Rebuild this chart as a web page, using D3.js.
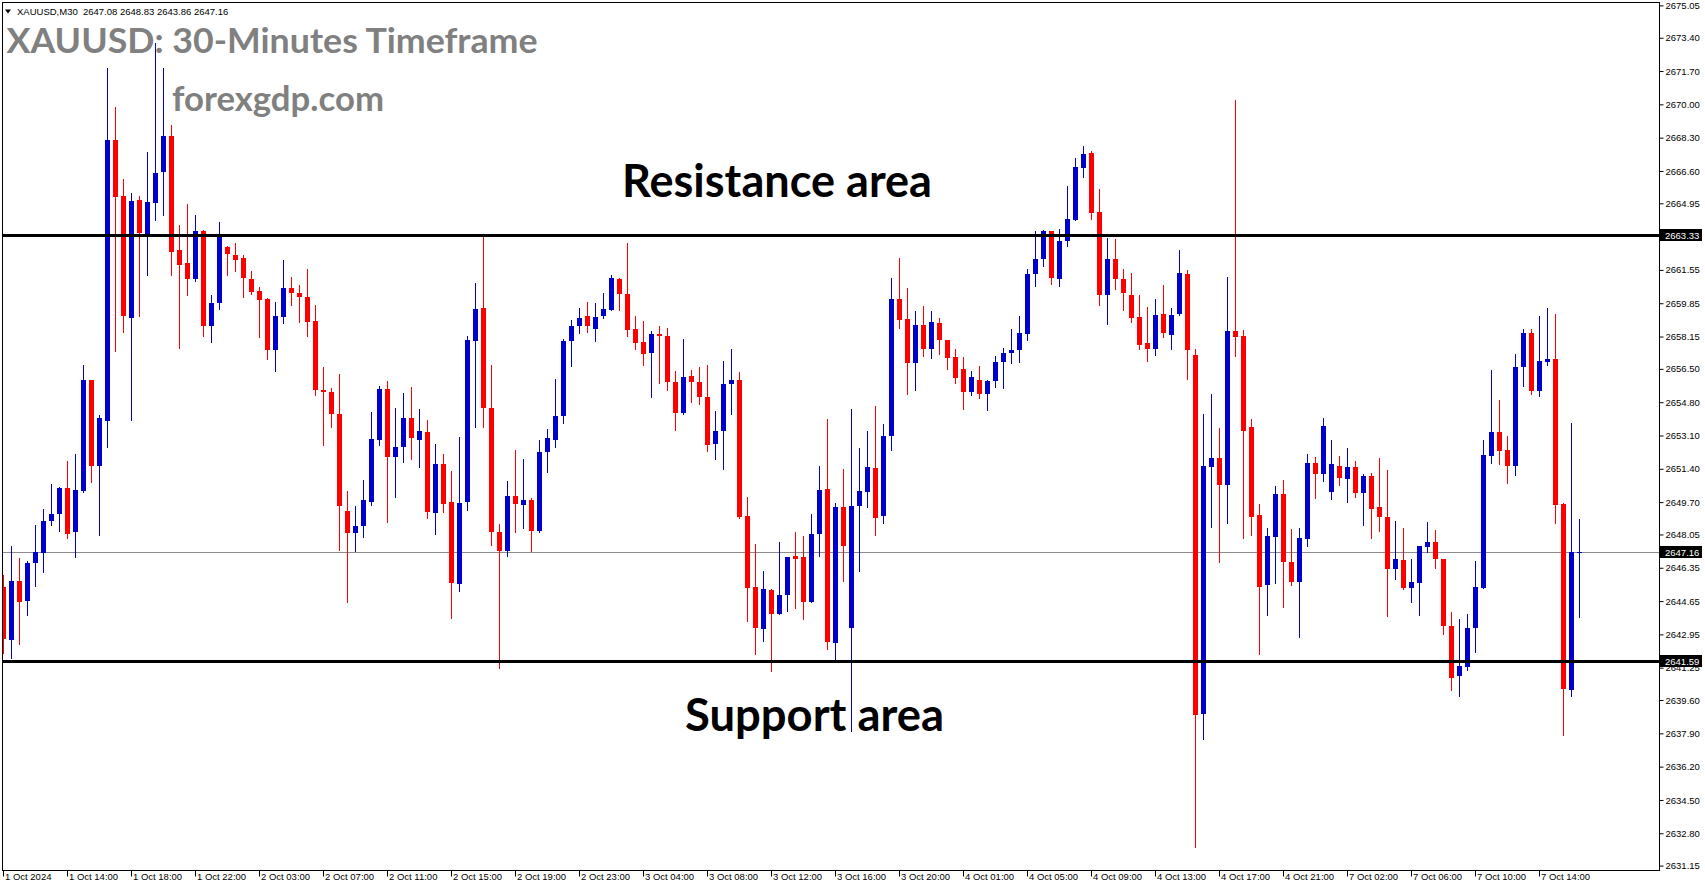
<!DOCTYPE html>
<html><head><meta charset="utf-8">
<script src="https://cdn.jsdelivr.net/npm/d3@7"></script>
<style>html,body{margin:0;padding:0;background:#fff;overflow:hidden}</style>
</head><body><svg id="c" width="1705" height="888"></svg>
<script>
// ---- DATA (XAUUSD M30) ----
const opens = [2645.37,2642.66,2645.68,2644.65,2646.59,2647.08,2648.74,2649.09,2650.41,2648.17,2650.26,2655.93,2651.56,2653.86,2668.16,2665.34,2659.12,2665.14,2663.33,2664.99,2666.54,2668.36,2662.57,2661.91,2661.11,2663.56,2658.71,2659.88,2662.73,2662.32,
2662.17,2661.10,2660.45,2660.08,2657.44,2659.13,2660.64,2660.39,2660.18,2658.96,2655.44,2655.33,2654.21,2649.26,2648.10,2648.46,2649.73,2652.85,2655.49,2651.98,2652.49,2654.01,2652.85,2653.29,2649.12,2651.66,2649.72,2645.50,2649.73,
2657.90,2659.62,2654.52,2648.19,2647.20,2650.02,2649.53,2649.82,2648.24,2652.24,2652.85,2654.11,2657.90,2658.67,2659.21,2658.51,2659.18,2659.48,2661.10,2660.34,2658.55,2657.89,2657.29,2658.29,2658.19,2655.84,2654.23,2656.15,2655.84,2655.08,
2652.69,2653.31,2655.71,2655.94,2649.00,2645.38,2643.25,2645.22,2643.97,2644.94,2646.96,2646.91,2644.58,2648.05,2650.38,2642.49,2649.46,2643.30,2649.48,2650.24,2651.45,2648.97,2653.05,2660.08,2659.06,2656.78,2658.75,2657.54,2658.85,
2657.99,2657.12,2656.51,2655.30,2655.95,2655.20,2655.86,2656.83,2657.29,2657.48,2658.26,2661.32,2662.09,2663.55,2661.07,2663.01,2664.08,2666.73,2667.53,2664.52,2660.25,2662.12,2661.10,2660.28,2659.16,2657.83,2657.49,2659.31,2658.21,2659.28,
2661.35,2657.21,2638.89,2651.51,2651.96,2650.56,2658.44,2658.19,2653.55,2649.05,2645.49,2647.90,2650.11,2646.65,2645.64,2647.83,2651.69,2651.16,2650.23,2651.54,2650.86,2651.49,2650.18,2651.04,2649.46,2648.93,2646.27,2646.75,2645.34,
2645.56,2647.40,2647.64,2646.82,2643.40,2640.81,2641.27,2643.26,2645.31,2652.04,2653.30,2652.38,2651.53,2656.59,2658.31,2655.36,2656.84,2656.98,2649.58,2640.10,2647.08];
const highs = [2645.99,2647.47,2646.85,2646.70,2648.52,2649.34,2650.61,2650.45,2651.78,2652.15,2656.71,2655.95,2654.15,2671.84,2669.88,2666.17,2665.49,2665.34,2667.58,2673.11,2671.84,2668.96,2663.86,2664.93,2664.36,2663.60,2660.27,2664.01,2662.77,2662.94,
2662.33,2661.51,2660.69,2660.10,2659.93,2662.07,2661.20,2660.80,2661.61,2659.77,2656.58,2655.54,2656.25,2650.28,2649.48,2650.81,2654.31,2655.61,2655.89,2654.52,2655.28,2655.55,2654.47,2653.90,2652.68,2652.17,2651.27,2653.04,2658.19,
2660.90,2663.26,2656.68,2648.59,2650.79,2652.37,2651.91,2649.92,2652.88,2653.44,2656.00,2658.04,2659.01,2659.62,2659.93,2659.88,2660.39,2661.31,2661.12,2662.94,2659.21,2658.96,2658.45,2658.70,2658.60,2656.40,2658.04,2656.46,2656.61,2656.71,
2654.36,2656.91,2657.53,2656.35,2649.94,2647.54,2646.19,2645.28,2647.69,2646.91,2648.19,2647.98,2649.10,2651.55,2653.95,2649.67,2651.40,2654.46,2652.47,2653.34,2654.62,2653.70,2661.15,2662.17,2660.64,2659.47,2659.72,2659.47,2659.11,
2657.99,2657.53,2657.12,2656.40,2656.66,2655.95,2657.17,2657.58,2658.55,2659.21,2661.61,2663.55,2663.60,2663.55,2663.65,2665.85,2667.28,2667.89,2667.64,2665.70,2663.19,2663.14,2661.61,2661.41,2660.28,2659.67,2660.08,2660.79,2659.62,2662.58,
2661.55,2657.53,2654.20,2655.23,2653.50,2661.20,2670.20,2658.49,2653.95,2649.61,2648.38,2650.53,2650.84,2648.33,2648.38,2652.17,2652.02,2654.00,2652.87,2652.07,2652.47,2651.81,2651.14,2651.19,2651.96,2651.34,2648.73,2648.38,2646.80,
2647.48,2648.66,2648.30,2646.82,2644.11,2643.71,2644.01,2646.67,2652.89,2656.42,2654.89,2653.05,2657.28,2658.51,2658.51,2659.22,2659.63,2659.28,2649.63,2653.76,2648.83];
const lows = [2641.98,2641.74,2642.46,2643.93,2645.41,2646.13,2648.54,2648.25,2647.88,2646.89,2650.22,2650.71,2648.02,2652.52,2657.43,2658.40,2653.90,2659.18,2661.28,2664.09,2664.34,2661.28,2657.58,2660.29,2660.97,2658.19,2657.89,2659.57,2661.28,2661.48,
2660.15,2660.34,2658.11,2656.98,2656.37,2658.82,2659.74,2658.87,2658.16,2655.15,2652.63,2653.51,2647.27,2644.58,2647.22,2647.90,2649.53,2652.59,2648.71,2649.94,2651.73,2651.91,2651.47,2648.87,2648.05,2649.22,2643.81,2645.14,2649.28,
2653.53,2653.51,2647.49,2641.21,2646.93,2648.15,2648.36,2647.20,2648.19,2651.22,2652.49,2653.72,2656.63,2658.34,2658.36,2657.90,2659.08,2659.48,2659.48,2658.16,2657.49,2656.68,2655.04,2655.76,2655.40,2653.36,2654.18,2654.79,2654.69,2652.29,
2651.91,2651.37,2654.18,2648.90,2643.61,2641.97,2642.59,2641.06,2643.97,2644.12,2644.32,2643.76,2644.58,2646.93,2642.18,2641.65,2645.65,2638.01,2646.21,2649.43,2648.00,2648.61,2652.34,2658.57,2655.20,2655.40,2657.14,2657.03,2657.24,
2656.47,2655.76,2654.43,2655.18,2654.99,2654.38,2655.55,2655.50,2656.78,2656.83,2657.95,2660.71,2661.73,2660.81,2660.71,2662.75,2664.08,2666.27,2664.13,2659.74,2658.77,2660.56,2659.48,2658.87,2657.49,2656.88,2657.19,2658.11,2657.49,2659.27,
2656.00,2632.12,2637.61,2648.45,2646.62,2648.65,2657.18,2647.85,2648.00,2641.95,2643.96,2645.59,2644.36,2645.49,2642.83,2647.47,2649.93,2650.76,2649.88,2650.56,2649.73,2649.98,2648.55,2647.85,2648.25,2643.91,2645.77,2645.27,2644.61,
2643.93,2647.14,2646.33,2642.96,2640.10,2639.79,2641.12,2642.04,2645.31,2651.69,2651.64,2650.67,2651.07,2655.62,2655.21,2655.11,2656.69,2648.62,2637.80,2639.79,2643.86];
const closes = [2642.70,2645.68,2644.59,2646.61,2647.14,2648.72,2649.11,2650.41,2648.06,2650.30,2655.93,2651.56,2653.98,2668.16,2665.26,2659.22,2665.08,2663.45,2665.04,2666.51,2668.36,2662.49,2661.79,2661.11,2663.56,2658.71,2659.86,2663.33,2662.34,2662.08,
2661.12,2660.40,2660.00,2657.44,2659.21,2660.64,2660.35,2660.15,2658.87,2655.40,2655.30,2654.18,2649.48,2648.10,2648.49,2649.82,2652.93,2655.49,2651.98,2652.53,2654.01,2652.95,2653.34,2649.22,2651.66,2649.58,2645.55,2649.67,2657.99,
2659.57,2654.48,2648.15,2647.20,2650.02,2649.58,2649.82,2648.25,2652.27,2652.98,2654.11,2657.94,2658.70,2659.11,2658.67,2659.16,2659.57,2661.15,2660.30,2658.46,2657.80,2657.24,2658.29,2658.16,2655.81,2654.23,2656.10,2655.81,2655.04,2652.64,
2653.34,2655.74,2655.94,2648.95,2645.34,2643.30,2645.28,2643.97,2644.97,2646.91,2646.82,2644.58,2648.08,2650.33,2642.54,2649.46,2647.44,2649.51,2650.28,2651.50,2648.87,2653.09,2660.08,2658.97,2656.78,2658.75,2657.54,2658.91,2657.95,
2657.07,2656.01,2655.30,2656.10,2655.20,2655.89,2656.86,2657.32,2657.48,2658.34,2661.36,2662.12,2663.55,2661.12,2663.04,2664.16,2666.82,2667.48,2664.44,2660.25,2662.12,2661.07,2660.35,2659.08,2657.70,2657.49,2659.26,2658.31,2659.26,2661.41,
2657.46,2638.84,2651.54,2651.96,2650.56,2658.44,2658.11,2653.32,2648.95,2645.39,2647.97,2650.11,2646.62,2645.64,2647.88,2651.69,2651.11,2653.60,2651.64,2650.91,2651.49,2650.18,2651.04,2649.33,2648.95,2646.27,2646.80,2645.32,2645.62,
2647.48,2647.64,2646.79,2643.37,2640.71,2641.36,2643.30,2645.39,2652.08,2653.30,2652.30,2651.53,2656.62,2658.31,2655.36,2656.88,2656.98,2649.54,2640.15,2647.13,2647.16];

const timeLabels = ["1 Oct 2024","1 Oct 14:00","1 Oct 18:00","1 Oct 22:00","2 Oct 03:00","2 Oct 07:00","2 Oct 11:00","2 Oct 15:00","2 Oct 19:00","2 Oct 23:00","3 Oct 04:00","3 Oct 08:00","3 Oct 12:00","3 Oct 16:00","3 Oct 20:00","4 Oct 01:00","4 Oct 05:00","4 Oct 09:00","4 Oct 13:00","4 Oct 17:00","4 Oct 21:00","7 Oct 02:00","7 Oct 06:00","7 Oct 10:00","7 Oct 14:00"];
const labelEvery = 8;
const priceTicks = [2675.05,2673.40,2671.70,2670.00,2668.30,2666.60,2664.95,2663.25,2661.55,2659.85,2658.15,2656.50,2654.80,2653.10,2651.40,2649.70,2648.05,2646.35,2644.65,2642.95,2641.25,2639.60,2637.90,2636.20,2634.50,2632.80,2631.15];
const resistanceLevel = 2663.33, supportLevel = 2641.59, lastPrice = 2647.16;
const headerText = "XAUUSD,M30  2647.08 2648.83 2643.86 2647.16";

// ---- LAYOUT ----
const svg = d3.select("#c");
const P = {left:2, top:2, right:1659, bottom:870};
const n = opens.length;
const x = d3.scaleLinear().domain([0, n-1]).range([3.5, 3.5 + 8*(n-1)]);
const y = d3.scaleLinear().domain([2631.15, 2675.05]).range([865.6, 5.4]);
const BULL = "#0000cc", BEAR = "#ff0000";
const smallFont = "'Liberation Sans', Arial, sans-serif";

svg.append("rect").attr("width",1705).attr("height",888).attr("fill","#fff");
svg.append("clipPath").attr("id","clip").append("rect")
  .attr("x",P.left+1).attr("y",P.top+1).attr("width",P.right-P.left-1).attr("height",P.bottom-P.top-1);

const g = svg.append("g").attr("clip-path","url(#clip)");

// last price line
g.append("line").attr("x1",P.left).attr("x2",P.right)
  .attr("y1",Math.round(y(lastPrice))+0.5).attr("y2",Math.round(y(lastPrice))+0.5)
  .attr("stroke","#8c8c8c").attr("stroke-width",1);

// candles
const data = d3.range(n).map(i => ({i, o:opens[i], h:highs[i], l:lows[i], c:closes[i]}));
const cg = g.append("g");
cg.selectAll("line.wick").data(data).join("line").attr("class","wick")
  .attr("x1",d=>x(d.i)).attr("x2",d=>x(d.i))
  .attr("y1",d=>Math.round(y(d.h))).attr("y2",d=>Math.round(y(d.l))+1)
  .attr("stroke",d=>d.c>=d.o?BULL:BEAR).attr("stroke-width",1);
cg.selectAll("rect.body").data(data).join("rect").attr("class","body")
  .attr("x",d=>x(d.i)-2.5).attr("width",5)
  .attr("y",d=>Math.round(y(Math.max(d.o,d.c))))
  .attr("height",d=>Math.max(1, Math.round(y(Math.min(d.o,d.c))) - Math.round(y(Math.max(d.o,d.c)))))
  .attr("fill",d=>d.c>=d.o?BULL:BEAR);

// horizontal levels
[resistanceLevel, supportLevel].forEach(v=>{
  g.append("line").attr("x1",P.left).attr("x2",P.right)
    .attr("y1",Math.round(y(v))+0.5).attr("y2",Math.round(y(v))+0.5)
    .attr("stroke","#000").attr("stroke-width",3);
});

// frame
svg.append("rect").attr("x",P.left+0.5).attr("y",P.top+0.5)
  .attr("width",P.right-P.left).attr("height",P.bottom-P.top)
  .attr("fill","none").attr("stroke","#000").attr("stroke-width",1);

// right price axis
const yAxis = d3.axisRight(y).tickValues(priceTicks).tickSize(4).tickSizeOuter(0).tickFormat(d=>d.toFixed(2));
const ya = svg.append("g").attr("transform",`translate(${P.right+0.5},0)`).call(yAxis);
ya.select(".domain").remove();
ya.selectAll("text").attr("x",6).attr("font-family",smallFont).attr("font-size","9.5px").attr("fill","#000");
ya.selectAll("line").attr("stroke","#000");

// bottom time axis
const tickIdx = timeLabels.map((_,k)=>k*labelEvery);
const xAxis = d3.axisBottom(x).tickValues(tickIdx).tickSize(6).tickSizeOuter(0).tickFormat((d,k)=>timeLabels[k]);
const xa = svg.append("g").attr("transform",`translate(-0.5,${P.bottom+0.5})`).call(xAxis);
xa.select(".domain").remove();
xa.selectAll("text").attr("text-anchor","start").attr("x",1.5).attr("y",3).attr("dy","0.71em")
  .attr("font-family",smallFont).attr("font-size","9.5px").attr("fill","#000");
xa.selectAll("line").attr("stroke","#000");

// price markers on axis
[resistanceLevel, supportLevel, lastPrice].forEach(v=>{
  const yy = Math.round(y(v));
  svg.append("rect").attr("x",P.right+1).attr("y",yy-6).attr("width",42).attr("height",12).attr("fill","#000");
  svg.append("text").attr("x",P.right+6).attr("y",yy+3.5).text(v.toFixed(2))
    .attr("font-family",smallFont).attr("font-size","9.5px").attr("fill","#fff");
});

// header
svg.append("path").attr("d","M5,9.5 L11,9.5 L8,13.5 Z").attr("fill","#000");
svg.append("text").attr("x",17).attr("y",15).text(headerText)
  .attr("font-family",smallFont).attr("font-size","9.5px").attr("fill","#000").attr("xml:space","preserve")
  .style("white-space","pre");

// titles
const bigFont = "Lato, 'Open Sans', sans-serif";
svg.append("text").attr("x",6.5).attr("y",53).text("XAUUSD: 30-Minutes Timeframe")
  .attr("font-family",bigFont).attr("font-weight",700).attr("font-size","35px").attr("fill","#808080")
  .attr("textLength",531).attr("lengthAdjust","spacingAndGlyphs");
svg.append("text").attr("x",172).attr("y",111).text("forexgdp.com")
  .attr("font-family",bigFont).attr("font-weight",700).attr("font-size","35px").attr("fill","#808080")
  .attr("textLength",212).attr("lengthAdjust","spacingAndGlyphs");
svg.append("text").attr("x",622).attr("y",197).text("Resistance area")
  .attr("font-family",bigFont).attr("font-weight",700).attr("font-size","46px").attr("fill","#000")
  .attr("textLength",310).attr("lengthAdjust","spacingAndGlyphs");
svg.append("text").attr("x",685).attr("y",731).text("Support area")
  .attr("font-family",bigFont).attr("font-weight",700).attr("font-size","46px").attr("fill","#000")
  .attr("textLength",259).attr("lengthAdjust","spacingAndGlyphs");
</script></body></html>
